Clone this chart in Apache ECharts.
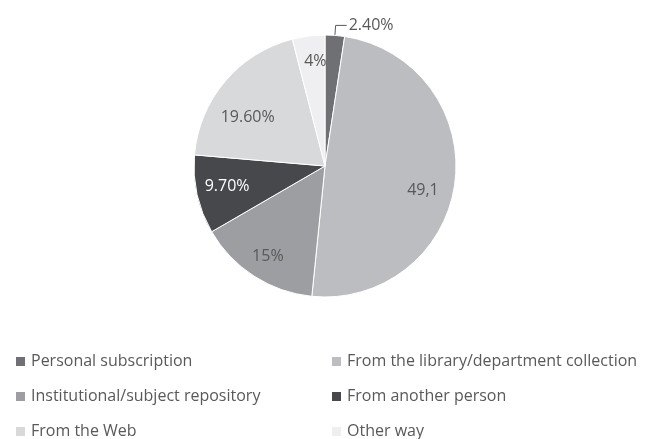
<!DOCTYPE html>
<html>
<head>
<meta charset="utf-8">
<script src="https://cdn.jsdelivr.net/npm/echarts@6/dist/echarts.min.js"></script>
<style>
  html, body { margin: 0; padding: 0; background: #fff; }
  #chart { width: 654px; height: 439px; }
</style>
</head>
<body>
<div id="chart"></div>
<script>
const categories = [
  'Personal subscription',
  'From the library/department collection',
  'Institutional/subject repository',
  'From another person',
  'From the Web',
  'Other way'
]
const values = [2.4, 49.1, 15, 9.7, 19.6, 4]
const labelTexts = ['2.40%', '49,1', '15%', '9.70%', '19.60%', '4%']
const colors = ['#6f7074', '#bcbdc0', '#9d9ea1', '#47484b', '#d8d9da', '#efeff1']
// Excel puts the inside labels further out than the echarts mid-radius
const labelNudges = [[0, 0], [30, 16], [-20, 33], [-31, 5], [-25, -4], [-1, -37]]

const chart = echarts.init(document.getElementById('chart'))
const fontFamily = '"Open Sans", "Noto Sans", sans-serif'

const data = categories.map((name, i) => ({
  name,
  value: values[i],
  itemStyle: { color: colors[i] },
  label: {
    position: i === 0 ? 'outside' : 'inside',
    color: i === 3 ? '#ffffff' : '#595959'
  }
}))

chart.setOption({
  animation: false,
  legend: {
    left: 14,
    top: 344,
    width: 640,
    padding: 0,
    itemWidth: 11,
    itemHeight: 11,
    itemGap: 0,
    icon: 'rect',
    selectedMode: false,
    data: categories,
    textStyle: {
      color: '#595959',
      fontFamily,
      fontSize: 16,
      width: 299,
      lineHeight: 35
    }
  },
  series: [
    {
      type: 'pie',
      center: [325, 166],
      radius: 131,
      startAngle: 90,
      data,
      itemStyle: { borderColor: '#ffffff', borderWidth: 1 },
      label: {
        fontFamily,
        fontSize: 16,
        distanceToLabelLine: 2,
        formatter: p => labelTexts[p.dataIndex]
      },
      labelLine: {
        length: 10,
        length2: 11,
        lineStyle: { color: '#595959', width: 1 }
      },
      labelLayout: p => {
        const n = labelNudges[p.dataIndex]
        return { dx: n[0], dy: n[1] }
      },
      emphasis: { disabled: true }
    }
  ]
})
</script>
</body>
</html>
